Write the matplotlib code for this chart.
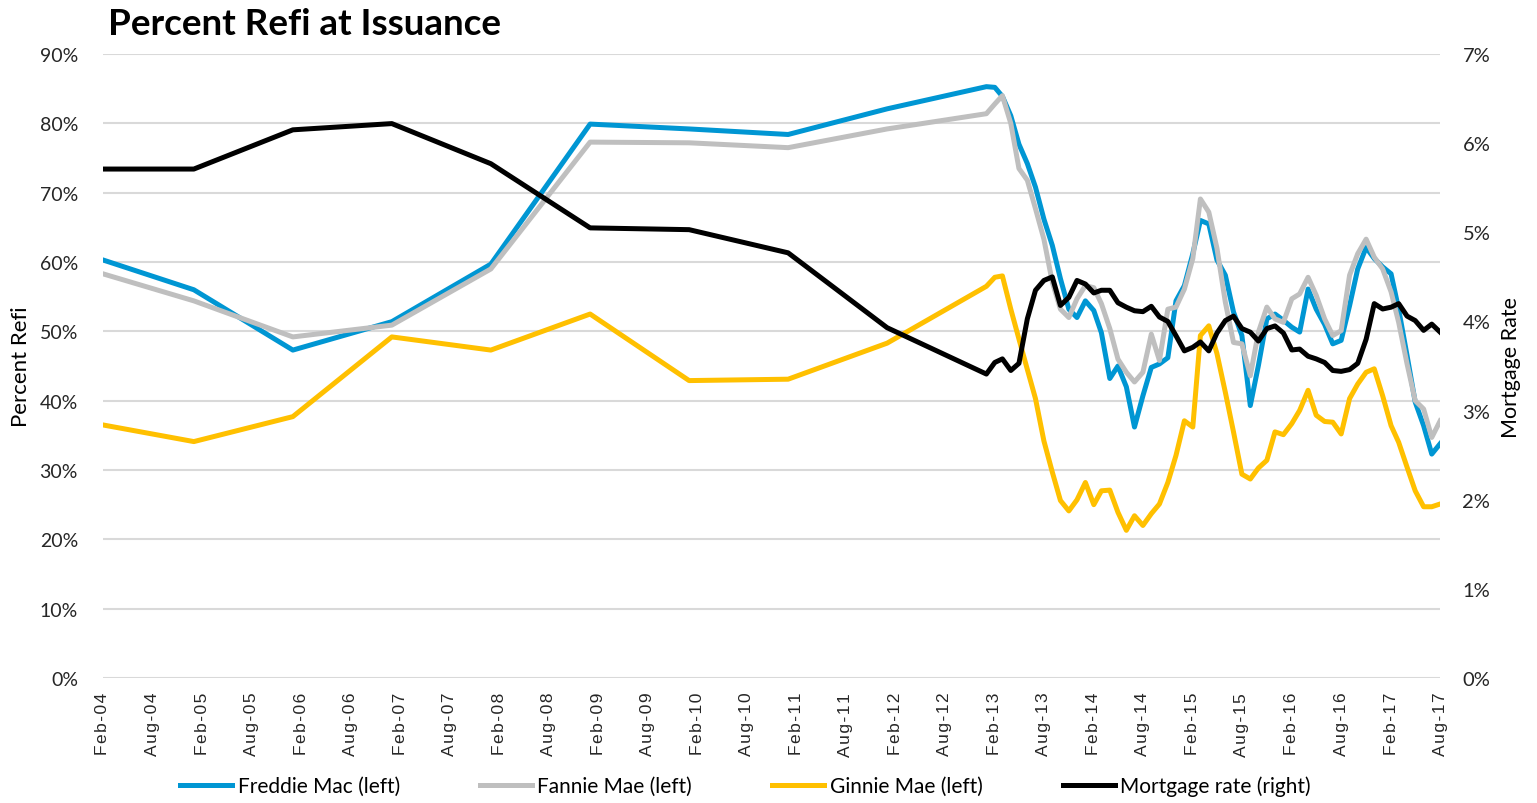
#recreate "Percent Refi at Issuance" chart (annual to 2012, monthly from 2013)
import pandas as pd
import matplotlib
matplotlib.use('Agg')
import matplotlib.pyplot as plt
import matplotlib.dates as mdates
from matplotlib.ticker import FuncFormatter

plt.rcParams['font.family'] = ['Lato', 'DejaVu Sans']

#x positions: yearly points first, then every month Jan-13 .. Aug-17
annual_dates = ['2004-02', '2005-01', '2006-01', '2007-01', '2008-01',
                '2009-01', '2010-01', '2011-01', '2012-01']
monthly_dates = pd.date_range('2013-01-01', '2017-08-01', freq='MS')
dates = list(pd.to_datetime(annual_dates)) + list(monthly_dates)

freddie = [60.3, 56.0, 47.3, 51.4, 59.7, 79.9, 79.2, 78.4, 82.1,
           85.3, 85.2, 83.9, 81.1, 77.0, 74.2, 70.8, 66.2, 62.4, 57.6,
           53.2, 52.0, 54.4, 53.0, 49.8, 43.2, 45.0, 42.0, 36.2, 40.7,
           44.8, 45.3, 46.2, 54.4, 56.6, 61.2, 66.0, 65.5, 60.3, 58.1,
           52.8, 49.4, 39.3, 45.1, 51.8, 52.5, 51.6, 50.6, 49.9, 56.1,
           53.2, 51.0, 48.2, 48.7, 53.7, 59.0, 62.1, 60.5, 59.3, 58.3,
           53.2, 46.5, 39.8, 36.4, 32.3, 33.8]
fannie = [58.3, 54.4, 49.2, 50.9, 59.0, 77.3, 77.2, 76.5, 79.2,
          81.4, 82.8, 84.0, 80.0, 73.5, 71.8, 67.7, 63.3, 57.1, 53.2,
          52.0, 54.7, 56.6, 56.3, 54.0, 50.4, 46.0, 44.1, 42.7, 44.1,
          49.6, 45.8, 53.2, 53.5, 56.1, 60.5, 69.1, 67.2, 62.0, 54.2,
          48.4, 48.2, 43.6, 49.9, 53.5, 51.8, 51.3, 54.7, 55.4, 57.8,
          55.2, 51.8, 49.4, 50.1, 58.1, 61.2, 63.3, 60.7, 59.0, 55.7,
          51.3, 45.3, 40.0, 38.8, 34.7, 37.1]
ginnie = [36.5, 34.1, 37.7, 49.2, 47.3, 52.5, 42.9, 43.1, 48.3,
          56.5, 57.8, 58.0, 53.2, 48.9, 44.5, 40.3, 34.2, 29.7, 25.6,
          24.1, 25.7, 28.2, 25.0, 27.0, 27.1, 23.9, 21.3, 23.4, 22.0,
          23.7, 25.1, 28.2, 32.1, 37.1, 36.2, 49.4, 50.8, 46.8, 41.2,
          35.5, 29.4, 28.7, 30.3, 31.4, 35.5, 35.1, 36.7, 38.6, 41.5,
          37.9, 37.0, 36.9, 35.2, 40.3, 42.4, 44.1, 44.6, 40.7, 36.4,
          34.0, 30.4, 27.0, 24.7, 24.7, 25.1]
mortgage = [5.71, 5.71, 6.15, 6.22, 5.77, 5.05, 5.03, 4.77, 3.93,
            3.41, 3.54, 3.58, 3.45, 3.53, 4.03, 4.35, 4.46, 4.50, 4.18,
            4.27, 4.46, 4.42, 4.32, 4.35, 4.35, 4.21, 4.16, 4.12, 4.11,
            4.17, 4.05, 4.00, 3.84, 3.67, 3.71, 3.77, 3.67, 3.87, 4.01,
            4.06, 3.92, 3.88, 3.78, 3.92, 3.95, 3.87, 3.68, 3.69, 3.61,
            3.58, 3.54, 3.45, 3.44, 3.46, 3.53, 3.80, 4.20, 4.14, 4.16,
            4.20, 4.06, 4.01, 3.90, 3.97, 3.88]

fig = plt.figure(figsize=(15.37, 8.04), dpi=100)
ax = fig.add_axes([0.067, 0.1555, 0.87, 0.776])
ax2 = ax.twinx()

lw = 3.6
l1, = ax.plot(dates, freddie, color='#0096D3', lw=lw, label='Freddie Mac (left)')
l2, = ax.plot(dates, fannie, color='#BFBFBF', lw=lw, label='Fannie Mae (left)')
l3, = ax.plot(dates, ginnie, color='#FFC000', lw=lw, label='Ginnie Mae (left)')
l4, = ax2.plot(dates, mortgage, color='black', lw=lw, label='Mortgage rate (right)')

ax.set_ylim(0, 90)
ax.set_yticks(range(0, 91, 10))
ax.set_yticklabels([f'{v}%' for v in range(0, 91, 10)])
ax2.set_ylim(0, 7)
ax2.set_yticks(range(0, 8))
ax2.set_yticklabels([f'{v}%' for v in range(0, 8)])

# excel-style spaced month labels
def month_label(x, pos):
    s = mdates.num2date(x).strftime('%b-%y')
    return '\u200a'.join(s)

ax.set_xlim(pd.Timestamp('2004-02-01'), pd.Timestamp('2017-08-01'))
ax.xaxis.set_major_locator(mdates.MonthLocator(bymonth=[2, 8]))
ax.xaxis.set_major_formatter(FuncFormatter(month_label))
for lab in ax.get_xticklabels():
    lab.set_rotation(90)
    lab.set_fontfamily(['Liberation Sans', 'DejaVu Sans'])
    lab.set_fontsize(12.5)

ax.grid(axis='y', color='#D9D9D9', lw=1.5)
ax.set_axisbelow(True)
for a in (ax, ax2):
    for s in a.spines.values():
        s.set_visible(False)
ax.tick_params(axis='both', length=0, colors='#262626')
ax.tick_params(axis='y', labelsize=14, pad=18)
ax.tick_params(axis='x', pad=10)
ax2.tick_params(axis='y', length=0, labelsize=14.5, pad=16, colors='#262626')

ax.set_ylabel('Percent Refi', fontsize=16, labelpad=6)
ax2.set_ylabel('Mortgage Rate', fontsize=15.5, labelpad=8)

fig.text(0.07, 0.97, 'Percent Refi at Issuance', fontsize=26.5, fontweight='bold',
         va='center', ha='left')

fig.legend(handles=[l1, l2, l3, l4], loc='lower center', bbox_to_anchor=(0.485, -0.015),
           ncol=4, frameon=False, fontsize=15, handlelength=2.5, handletextpad=0.25,
           columnspacing=3.85)

fig.savefig('out.png', dpi=100)
